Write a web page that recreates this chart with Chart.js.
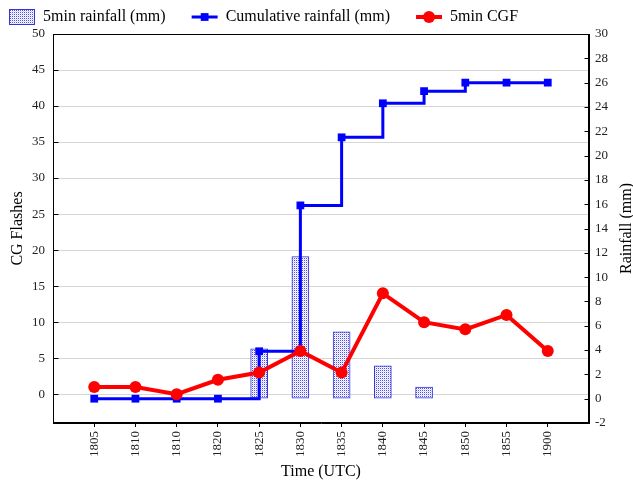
<!DOCTYPE html>
<html>
<head>
<meta charset="utf-8">
<script src="https://cdn.jsdelivr.net/npm/chart.js@4.4.1/dist/chart.umd.min.js"></script>
<style>
  html, body { margin: 0; padding: 0; background: #fff; }
  #wrap { width: 633px; height: 481px; position: relative; }
</style>
</head>
<body>
<div id="wrap"><canvas id="c" width="633" height="481"></canvas></div>
<script>
// ---- data ----
const timeLabels = ['1805','1810','1810','1820','1825','1830','1835','1840','1845','1850','1855','1900'];
const rainfall5min = [0, 0, 0, 0, 4.1, 11.7, 5.5, 2.7, 0.95, 0, 0, 0];
const rainfallCumulative = [0, 0, 0, 0, 3.9, 15.9, 21.5, 24.3, 25.3, 26, 26, 26];
const cgf5min = [1, 1, 0, 2, 3, 6, 3, 14, 10, 9, 11, 6];
const seriesNames = ['5min rainfall (mm)', 'Cumulative rainfall (mm)', '5min CGF'];

const FONT = '"Liberation Serif", "Times New Roman", serif';

// dotted fill pattern for the rainfall bars
function makePattern() {
  const pc = document.createElement('canvas');
  pc.width = 2; pc.height = 2;
  const g = pc.getContext('2d');
  g.fillStyle = '#ffffff'; g.fillRect(0, 0, 2, 2);
  g.fillStyle = '#4a4aff'; g.fillRect(0, 0, 1, 1);
  g.fillStyle = '#d6d6ff'; g.fillRect(1, 1, 1, 1);
  return g.createPattern(pc, 'repeat');
}
const ctx = document.getElementById('c').getContext('2d');
const barPattern = makePattern();

const pts = arr => arr.map((v, i) => ({x: i, y: v}));

// custom legend (drawn in the reference's layout, labels from datasets)
const legendPlugin = {
  id: 'customLegend',
  afterDraw(chart) {
    const c = chart.ctx;
    c.save();
    c.font = '16px ' + FONT;
    c.textBaseline = 'middle';
    let x = 9; const y = 17;
    chart.data.datasets.forEach(ds => {
      if (ds.type === 'bar') {
        c.fillStyle = barPattern;
        c.fillRect(x + 0.5, y - 7.5, 25, 15);
        c.strokeStyle = ds.borderColor; c.lineWidth = 1;
        c.strokeRect(x + 0.5, y - 7.5, 25, 15);
      } else {
        c.strokeStyle = ds.borderColor; c.lineWidth = ds.borderWidth;
        c.beginPath(); c.moveTo(x, y); c.lineTo(x + 26, y); c.stroke();
        c.fillStyle = ds.pointBackgroundColor;
        if (ds.pointStyle === 'rect') {
          const s = ds.pointRadius * Math.SQRT1_2;
          c.fillRect(x + 13 - s, y - s, 2 * s, 2 * s);
        } else {
          c.beginPath(); c.arc(x + 13, y, ds.pointRadius, 0, Math.PI * 2); c.fill();
        }
      }
      c.fillStyle = '#000';
      c.fillText(ds.label, x + 34, y);
      x += 34 + c.measureText(ds.label).width + 26;
    });
    c.restore();
  }
};

// frame around plot + inward tick marks on both y axes + right axis title
const framePlugin = {
  id: 'frame',
  afterDraw(chart) {
    const c = chart.ctx, a = chart.chartArea;
    c.save();
    c.strokeStyle = '#000'; c.lineWidth = 1;
    const L = Math.round(a.left) + 0.5, R = Math.round(a.right) - 0.5;
    const T = Math.round(a.top) + 0.5, B = Math.round(a.bottom) - 0.5;
    c.strokeRect(L, T, R - L, B - T);
    const yl = chart.scales.y, yr = chart.scales.y1;
    c.beginPath();
    yl.ticks.forEach(t => {
      if (t.value <= yl.min || t.value >= yl.max) return;
      const py = Math.round(yl.getPixelForValue(t.value)) + 0.5;
      c.moveTo(L, py); c.lineTo(L + 5, py);
    });
    yr.ticks.forEach(t => {
      if (t.value <= yr.min || t.value >= yr.max) return;
      const py = Math.round(yr.getPixelForValue(t.value)) + 0.5;
      c.moveTo(R, py); c.lineTo(R - 4, py);
    });
    c.stroke();
    // right axis title, reading bottom to top
    c.translate(627, (a.top + a.bottom) / 2);
    c.rotate(-Math.PI / 2);
    c.font = '16px ' + FONT;
    c.fillStyle = '#000';
    c.textAlign = 'center';
    c.textBaseline = 'middle';
    c.fillText('Rainfall (mm)', 0, 0);
    c.restore();
  }
};

new Chart(ctx, {
  data: {
    datasets: [
      {
        type: 'bar',
        label: seriesNames[0],
        data: pts(rainfall5min.map(v => v || null)),
        yAxisID: 'y1',
        backgroundColor: barPattern,
        borderColor: '#3535d5',
        borderWidth: 1,
        borderSkipped: false,
        barThickness: 17,
        order: 3
      },
      {
        type: 'line',
        label: seriesNames[1],
        data: pts(rainfallCumulative),
        yAxisID: 'y1',
        stepped: 'before',
        borderColor: '#0000ff',
        borderWidth: 3,
        pointStyle: 'rect',
        pointRadius: 5.5,
        pointBackgroundColor: '#0000ff',
        pointBorderWidth: 0,
        order: 2
      },
      {
        type: 'line',
        label: seriesNames[2],
        data: pts(cgf5min),
        yAxisID: 'y',
        borderColor: '#ff0000',
        borderWidth: 4,
        pointStyle: 'circle',
        pointRadius: 6,
        pointBackgroundColor: '#ff0000',
        pointBorderWidth: 0,
        order: 1
      }
    ]
  },
  options: {
    responsive: false,
    animation: false,
    layout: { padding: { top: 34, left: 0, right: 0, bottom: 0 } },
    plugins: { legend: { display: false }, tooltip: { enabled: false } },
    scales: {
      x: {
        type: 'linear',
        min: -1, max: 12,
        offset: false,
        afterBuildTicks(s) { s.ticks = timeLabels.map((_, i) => ({value: i})); },
        afterFit(s) { s.height = 58; },
        grid: { offset: false, drawOnChartArea: false, drawTicks: true, tickLength: 4, tickColor: '#000' },
        border: { color: '#000', width: 1 },
        ticks: {
          autoSkip: false,
          minRotation: 90, maxRotation: 90,
          padding: 4,
          color: '#222',
          font: { family: FONT, size: 13 },
          callback: v => timeLabels[v] ?? ''
        },
        title: { display: true, text: 'Time (UTC)', color: '#000', font: { family: FONT, size: 16 }, padding: { top: 0, bottom: 0 } }
      },
      y: {
        position: 'left',
        min: -4, max: 50,
        afterBuildTicks(s) { s.ticks = s.ticks.filter(t => t.value >= 0); },
        afterFit(s) { s.width = 53; },
        grid: { color: '#d6d6d6', lineWidth: 1, drawTicks: false },
        border: { color: '#000', width: 1 },
        ticks: { stepSize: 5, padding: 8, color: '#222', font: { family: FONT, size: 13 } },
        title: { display: true, text: 'CG Flashes', color: '#000', font: { family: FONT, size: 16 }, padding: { top: 8, bottom: 0 } }
      },
      y1: {
        position: 'right',
        min: -2, max: 30,
        afterFit(s) { s.width = 44; },
        grid: { drawOnChartArea: false, drawTicks: false },
        border: { color: '#000', width: 1 },
        ticks: { stepSize: 2, padding: 6, color: '#222', font: { family: FONT, size: 13 } }
      }
    }
  },
  plugins: [legendPlugin, framePlugin]
});
</script>
</body>
</html>
